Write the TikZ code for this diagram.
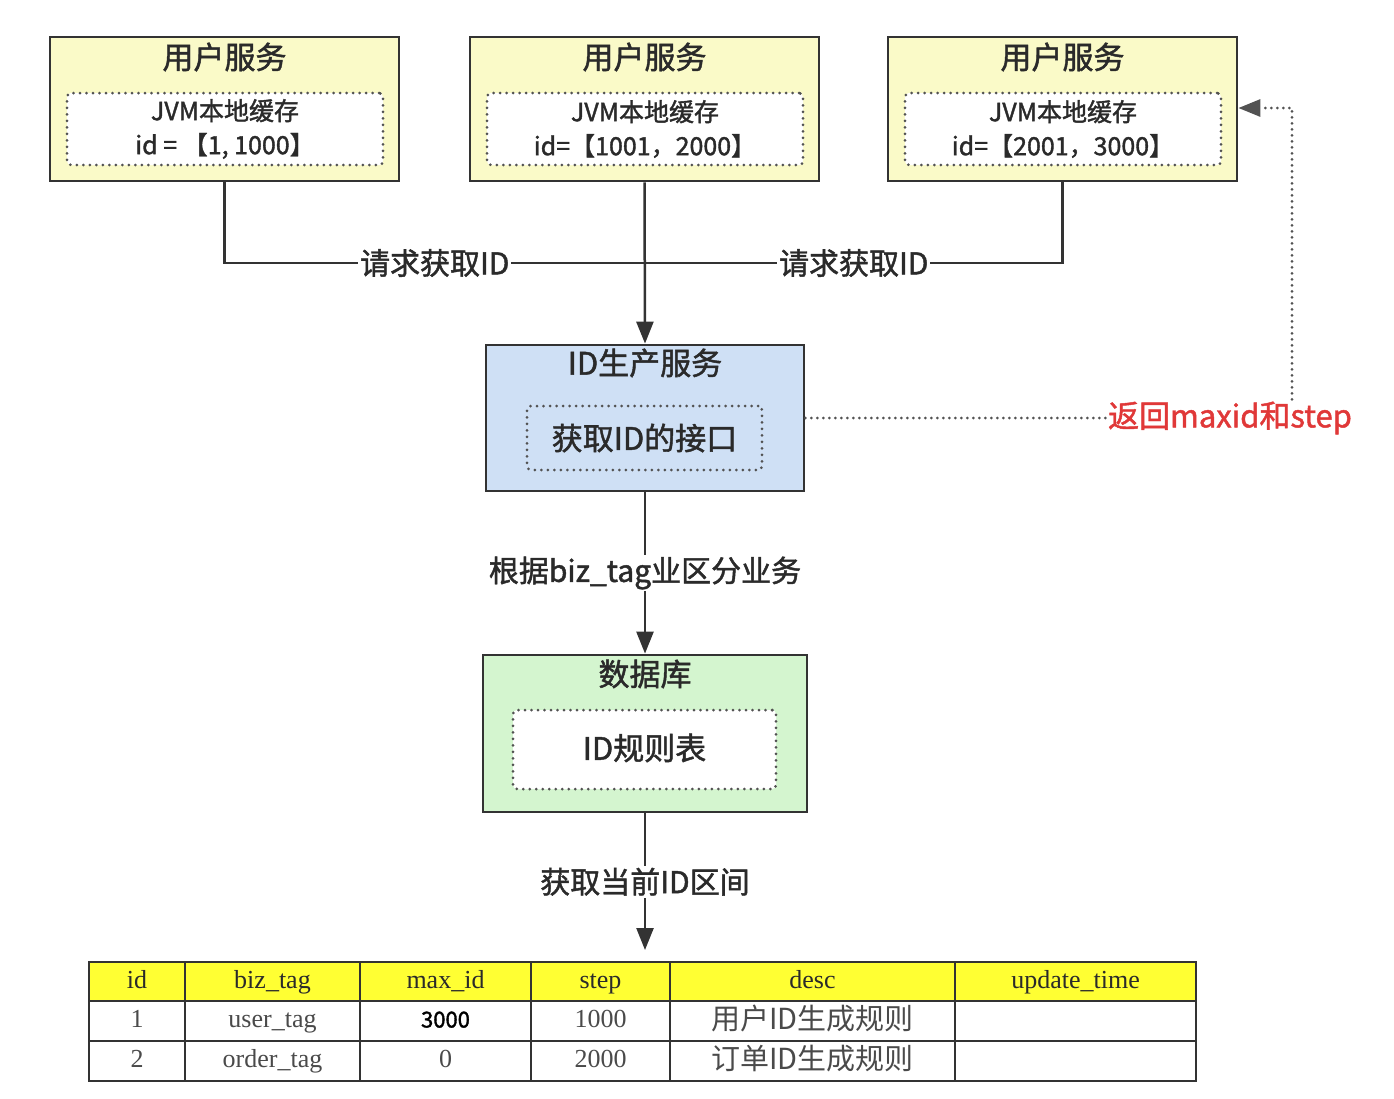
\documentclass[tikz,border=0pt]{standalone}
\usepackage{fontspec}
\setmainfont{Noto Sans CJK SC}[FakeBold=1.5]
\newfontfamily\tabfont{Liberation Serif}
\newfontfamily\cjk{Noto Sans CJK SC}
\usetikzlibrary{arrows.meta}
\definecolor{lineg}{HTML}{333333}
\definecolor{uyellow}{HTML}{FAFAC8}
\definecolor{ublue}{HTML}{CFE0F5}
\definecolor{ugreen}{HTML}{D4F5CF}
\definecolor{hyellow}{HTML}{FFFF33}
\definecolor{retred}{HTML}{E03838}
\definecolor{txt}{HTML}{2A2A2A}
\begin{document}
\begin{tikzpicture}[x=1pt,y=-1pt,
  box/.style={draw=lineg, line width=2.8pt, inner sep=0pt},
  ubox/.style={box, fill=uyellow, minimum width=349pt, minimum height=144pt},
  inbox/.style={draw=lineg!85, line width=3pt, dash pattern=on 0pt off 6.5pt, line cap=round, rounded corners=4pt, inner sep=0pt},
  ttl/.style={text=txt, font=\fontsize{31}{34}\selectfont, inner sep=0pt},
  sub/.style={text=txt, font=\fontsize{25}{34}\selectfont, align=center, inner sep=0pt},
  mid/.style={text=txt, font=\fontsize{31}{34}\selectfont, inner sep=0pt},
  conn/.style={draw=lineg, line width=2.5pt},
  arr/.style={conn, -{Triangle[length=22pt,width=17pt]}},
  lab/.style={fill=white, text=txt, font=\fontsize{30}{32}\selectfont, inner sep=2pt},
  dotconn/.style={draw=lineg!85, line width=3pt, dash pattern=on 0pt off 6pt, line cap=round},
  tcell/.style={draw=lineg, line width=2pt, inner sep=0pt, text height=17pt, text depth=4pt, font=\tabfont\fontsize{26}{28}\selectfont},
  hcell/.style={tcell, fill=hyellow, minimum height=39pt, text=txt},
  cell/.style={tcell, minimum height=40pt, text=txt!85},
  ccell/.style={cell, text height=21pt, text depth=4pt, font=\cjk\fontsize{29}{30}\selectfont}
]
\useasboundingbox (0,0) rectangle (1394,1098);

% user service boxes
\node[ubox] (u1) at (224.5,109) {};
\node[ubox] (u2) at (644.5,109) {};
\node[ubox] (u3) at (1062.5,109) {};
\node[ttl] (t1) at (224.5,57) {用户服务};
\node[ttl] (t2) at (644.5,57) {用户服务};
\node[ttl] (t3) at (1062.5,57) {用户服务};
\node[inbox, fill=white, minimum width=316pt, minimum height=72pt] (i1) at (225,129) {};
\node[inbox, fill=white, minimum width=316pt, minimum height=72pt] (i2) at (645,129) {};
\node[inbox, fill=white, minimum width=316pt, minimum height=72pt] (i3) at (1063,129) {};
\node[sub] (s1) at (225,129) {JVM本地缓存\\id = 【1, 1000】};
\node[sub] (s2) at (645,129) {JVM本地缓存\\id=【1001，2000】};
\node[sub] (s3) at (1063,129) {JVM本地缓存\\id=【2001，3000】};

% ID service
\node[box, fill=ublue, minimum width=318pt, minimum height=146pt] (idsvc) at (645,418) {};
\node[mid] (idt) at (645,363) {ID生产服务};
\node[inbox, minimum width=235pt, minimum height=64pt] (idi) at (644.5,438) {};
\node[mid] (idx) at (644.5,438) {获取ID的接口};

% database
\node[box, fill=ugreen, minimum width=324pt, minimum height=157pt] (db) at (645,733.5) {};
\node[mid] (dbt) at (645,674) {数据库};
\node[inbox, fill=white, minimum width=263pt, minimum height=79pt] (dbi) at (644.5,749.5) {};
\node[mid] (dbx) at (644.5,748) {ID规则表};

% connectors from user services
\coordinate (j) at (645,263);
\draw[conn] (u1.south) |- (j) node[lab, pos=0.75] (l1) {请求获取ID};
\draw[conn] (u3.south) |- (j) node[lab, pos=0.75] (l2) {请求获取ID};
\draw[arr] (u2.south) -- (idsvc.north);

% return path
\node[text=retred, font=\fontsize{31}{32}\selectfont, inner sep=2pt] (ret) at (1230,418) {返回maxid和step};
\coordinate (rc) at (1292,108);
\draw[dotconn] (idsvc.east) -- (ret.west);
\draw[dotconn, -{Triangle[length=22pt,width=17pt]}] (ret.north -| rc) -- (rc) -- (u3.east |- rc);

% id service -> db
\draw[arr] (idsvc.south) -- (db.north) node[lab, midway] (l3) {根据biz\_tag业区分业务};

% db -> table
\coordinate (tt) at (645,950);
\draw[arr] (db.south) -- (tt) node[lab, pos=0.5] (l4) {获取当前ID区间};

% table
\node[hcell, minimum width=96pt] (h1) at (137,981.5) {id};
\node[hcell, minimum width=175pt] (h2) at (272.5,981.5) {biz\_tag};
\node[hcell, minimum width=171pt] (h3) at (445.5,981.5) {max\_id};
\node[hcell, minimum width=139pt] (h4) at (600.5,981.5) {step};
\node[hcell, minimum width=285pt] (h5) at (812.5,981.5) {desc};
\node[hcell, minimum width=241pt] (h6) at (1075.5,981.5) {update\_time};

\node[cell, minimum width=96pt] (a1) at (137,1021) {1};
\node[cell, minimum width=175pt] (a2) at (272.5,1021) {user\_tag};
\node[cell, minimum width=171pt, font=\fontsize{22}{24}\selectfont, text=black] (a3) at (445.5,1021) {3000};
\node[cell, minimum width=139pt] (a4) at (600.5,1021) {1000};
\node[ccell, minimum width=285pt] (a5) at (812.5,1021) {用户ID生成规则};
\node[cell, minimum width=241pt] (a6) at (1075.5,1021) {};

\node[cell, minimum width=96pt] (b1) at (137,1061) {2};
\node[cell, minimum width=175pt] (b2) at (272.5,1061) {order\_tag};
\node[cell, minimum width=171pt] (b3) at (445.5,1061) {0};
\node[cell, minimum width=139pt] (b4) at (600.5,1061) {2000};
\node[ccell, minimum width=285pt] (b5) at (812.5,1061) {订单ID生成规则};
\node[cell, minimum width=241pt] (b6) at (1075.5,1061) {};
\end{tikzpicture}
\end{document}
